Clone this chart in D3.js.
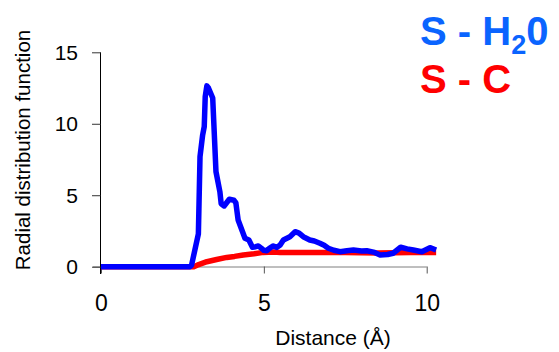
<!DOCTYPE html>
<html>
<head>
<meta charset="utf-8">
<script src="https://cdn.jsdelivr.net/npm/d3@7"></script>
<style>
  body { margin: 0; background: #fff; }
  svg { display: block; font-family: Arial, "Liberation Sans", sans-serif; }
</style>
</head>
<body>
<div id="chart"></div>
<script>
// S - H2O radial distribution
const waterX = [0, 2.73, 2.78, 2.99, 3.04, 3.12, 3.17, 3.2, 3.25, 3.3, 3.43, 3.53, 3.65, 3.69, 3.78, 3.94, 4.08, 4.14, 4.21, 4.42, 4.54, 4.65, 4.75, 4.83, 4.92, 5.0, 5.09, 5.18, 5.29, 5.4, 5.5, 5.6, 5.8, 5.96, 6.08, 6.21, 6.41, 6.55, 6.72, 6.85, 6.98, 7.15, 7.34, 7.55, 7.75, 8.0, 8.16, 8.4, 8.57, 8.8, 8.97, 9.2, 9.4, 9.59, 9.85, 10.1, 10.29];
const waterY = [0, 0, 0.1, 2.3, 7.7, 9.2, 9.8, 11.9, 12.65, 12.5, 11.8, 6.65, 5.25, 4.4, 4.25, 4.72, 4.65, 4.48, 3.27, 1.99, 1.87, 1.36, 1.4, 1.45, 1.3, 1.15, 1.12, 1.3, 1.45, 1.35, 1.52, 1.87, 2.1, 2.45, 2.35, 2.1, 1.87, 1.8, 1.64, 1.5, 1.29, 1.15, 1.05, 1.12, 1.17, 1.1, 1.12, 1.0, 0.82, 0.85, 0.94, 1.36, 1.25, 1.17, 1.05, 1.33, 1.17];

// S - C radial distribution
const carbonX = [0, 2.85, 3.0, 3.25, 3.55, 3.86, 4.1, 4.37, 4.7, 4.98, 5.3, 5.5, 6.0, 6.5, 7.0, 7.5, 8.0, 8.5, 9.0, 9.5, 10.0, 10.29];
const carbonY = [0, 0, 0.15, 0.35, 0.5, 0.65, 0.72, 0.82, 0.9, 1.0, 1.02, 1.0, 1.0, 1.0, 1.0, 1.0, 0.98, 0.95, 0.98, 1.0, 1.0, 1.0];

const xTicks = [0, 5, 10];
const yTicks = [0, 5, 10, 15];

const width = 559, height = 352;

const svg = d3.select("#chart").append("svg")
  .attr("width", width)
  .attr("height", height);

const x = d3.scaleLinear().domain([0, 10]).range([101, 426.7]);
const y = d3.scaleLinear().domain([0, 15]).range([266.7, 52.3]);

// x axis (grey, ticks downward)
const xAxis = svg.append("g")
  .attr("transform", "translate(0,266.5)")
  .call(d3.axisBottom(x).tickValues(xTicks).tickSize(7).tickSizeOuter(0).tickPadding(8));
xAxis.select(".domain").attr("stroke", "#7f7f7f").attr("d", `M93,0.5H${x(10)}`);
xAxis.selectAll(".tick line").attr("stroke", "#555");
xAxis.selectAll(".tick text")
  .attr("font-size", "23px")
  .attr("fill", "#000")
  .attr("y", 28)
  .attr("dy", "0.71em");

// y axis (black, ticks to the left)
const yAxis = svg.append("g")
  .attr("transform", "translate(100.5,0)")
  .call(d3.axisLeft(y).tickValues(yTicks).tickSize(8.5).tickSizeOuter(0).tickPadding(14));
yAxis.select(".domain").attr("stroke", "#000").attr("d", `M0,${y(15)}V274`);
yAxis.selectAll(".tick line").attr("stroke", "#333");
yAxis.selectAll(".tick text")
  .attr("font-size", "21px")
  .attr("fill", "#000")
  .attr("dy", "0.34em");

// axis titles
svg.append("text")
  .attr("x", 333)
  .attr("y", 345)
  .attr("text-anchor", "middle")
  .attr("font-size", "21px")
  .attr("fill", "#000")
  .text("Distance (Å)");

svg.append("text")
  .attr("transform", "translate(30,150) rotate(-90)")
  .attr("text-anchor", "middle")
  .attr("font-size", "20.5px")
  .attr("fill", "#000")
  .text("Radial distribution function");

// curves
const line = d3.line()
  .x(d => x(d[0]))
  .y(d => y(d[1]));

svg.append("path")
  .datum(d3.zip(carbonX, carbonY))
  .attr("d", line)
  .attr("fill", "none")
  .attr("stroke", "#ff0000")
  .attr("stroke-width", 5.5)
  .attr("stroke-linejoin", "round");

svg.append("path")
  .datum(d3.zip(waterX, waterY))
  .attr("d", line)
  .attr("fill", "none")
  .attr("stroke", "#0000ff")
  .attr("stroke-width", 5.5)
  .attr("stroke-linejoin", "round");

// legend
const l1 = svg.append("text")
  .attr("x", 420)
  .attr("y", 45)
  .attr("font-size", "40px")
  .attr("font-weight", "bold")
  .attr("fill", "#0a64ff");
l1.append("tspan").text("S - H");
l1.append("tspan").attr("font-size", "27px").attr("dy", 9).text("2");
l1.append("tspan").attr("dy", -9).text("0");

svg.append("text")
  .attr("x", 420)
  .attr("y", 93)
  .attr("font-size", "40px")
  .attr("font-weight", "bold")
  .attr("fill", "#ff0000")
  .text("S - C");
</script>
</body>
</html>
